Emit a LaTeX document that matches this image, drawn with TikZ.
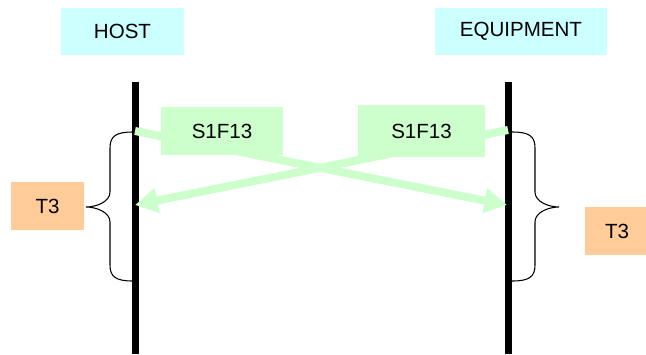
\documentclass[tikz,border=0pt]{standalone}
\usepackage{fontspec}
\setmainfont{Liberation Sans}
\usetikzlibrary{arrows.meta}

\definecolor{sidecyan}{HTML}{CCFFFF}
\definecolor{msggreen}{HTML}{CCFFCC}
\definecolor{timerorange}{HTML}{FFCC99}

\tikzstyle{sidebox}=[rectangle,
                         fill=sidecyan,
                         inner sep=0pt,
                         minimum height=35.25pt,
                         font=\fontsize{15.4}{18}\selectfont]
\tikzstyle{msgbox}=[rectangle,
                         fill=msggreen,
                         inner sep=0pt,
                         font=\fontsize{15.4}{18}\selectfont]
\tikzstyle{timerbox}=[rectangle,
                         fill=timerorange,
                         inner sep=0pt,
                         minimum height=36pt,
                         font=\fontsize{15.4}{18}\selectfont]
\tikzstyle{lifeline}=[line width=5.25pt, black]
\tikzstyle{msgarrow}=[line width=6pt, msggreen,
                         -{Triangle[length=17pt,width=18pt]}]
\tikzstyle{timerbrace}=[line width=0.8pt, black]

\begin{document}
\begin{tikzpicture}[x=0.75pt,y=-0.75pt]
    \useasboundingbox (0,0) rectangle (646,354);

    \node [sidebox,minimum width=92.25pt] (host) at (122.5,31.5) {HOST};
    \node [sidebox,minimum width=129pt] (equip) at (521,31.5) {EQUIPMENT};

    \coordinate (hosttop) at (135,82);
    \coordinate (hostbot) at (135,354);
    \coordinate (equiptop) at (508.5,82);
    \coordinate (equipbot) at (508.5,354);
    \draw [lifeline] (hosttop) -- (hostbot);
    \draw [lifeline] (equiptop) -- (equipbot);

    \coordinate (hostsend) at (135,131);
    \coordinate (hostrecv) at (135,205);
    \coordinate (equipsend) at (508,130);
    \coordinate (equiprecv) at (507,205);
    \draw [msgarrow] (hostsend) -- (equiprecv);
    \draw [msgarrow] (equipsend) -- (hostrecv);

    \node [msgbox,minimum width=91.5pt,minimum height=36pt] (msgh) at (222,131) {S1F13};
    \node [msgbox,minimum width=95.25pt,minimum height=39pt] (msge) at (421.5,131) {S1F13};

    \coordinate (bracehtop) at (133,132);
    \coordinate (braceetop) at (512,132);
    \draw [timerbrace] (bracehtop)
        .. controls +(-17,0) and +(0,-12) .. ++(-23,16)
        -- ++(0,44)
        .. controls +(0,10) and +(10,0) .. ++(-24,15)
        .. controls +(10,0) and +(0,-10) .. ++(24,15)
        -- ++(0,43)
        .. controls +(0,12) and +(-17,0) .. ++(23,16);
    \draw [timerbrace] (braceetop)
        .. controls +(17,0) and +(0,-12) .. ++(23,16)
        -- ++(0,44)
        .. controls +(0,10) and +(-10,0) .. ++(24,15)
        .. controls +(-10,0) and +(0,-10) .. ++(-24,15)
        -- ++(0,43)
        .. controls +(0,12) and +(17,0) .. ++(-23,16);

    \node [timerbox,minimum width=54.75pt] (t3h) at (47.5,206) {T3};
    \node [timerbox,minimum width=48pt] (t3e) at (617,231) {T3};
\end{tikzpicture}
\end{document}
